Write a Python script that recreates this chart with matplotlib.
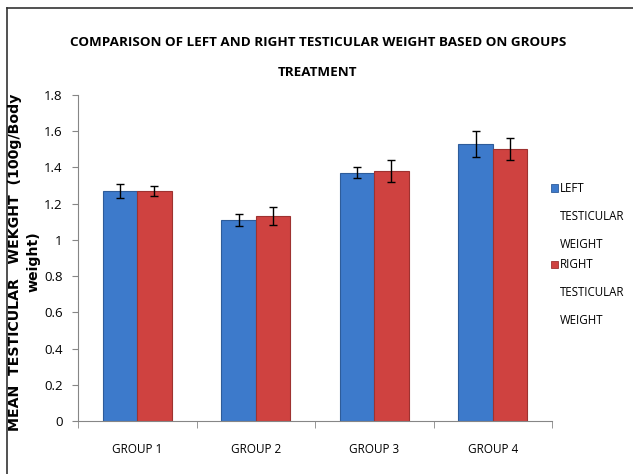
import numpy as np
import matplotlib
matplotlib.use("Agg")
import matplotlib.pyplot as plt
from matplotlib import font_manager
from matplotlib.patches import Rectangle
from matplotlib.lines import Line2D

groups = ["GROUP 1", "GROUP 2", "GROUP 3", "GROUP 4"]
left_weight = [1.27, 1.11, 1.37, 1.53]
left_err = [0.04, 0.035, 0.03, 0.07]
right_weight = [1.27, 1.13, 1.38, 1.50]
right_err = [0.03, 0.05, 0.06, 0.06]
y_ticks = [0, 0.2, 0.4, 0.6, 0.8, 1, 1.2, 1.4, 1.6, 1.8]
y_tick_labels = ["0", "0.2", "0.4", "0.6", "0.8", "1", "1.2", "1.4", "1.6", "1.8"]

# pick a narrow Calibri-like font if one is around
installed = {f.name for f in font_manager.fontManager.ttflist}
narrow = "DejaVu Sans"
for name in ["Liberation Sans Narrow", "Open Sans", "Liberation Sans"]:
    if name in installed:
        narrow = name
        break

BLUE = "#3D7ACB"
BLUE_EDGE = "#2E5C9A"
RED = "#CF4240"
RED_EDGE = "#9E3230"
AXIS = "#868686"

fig = plt.figure(figsize=(6.33, 4.74), dpi=100)
ax = fig.add_axes([0.1232, 0.1118, 0.749, 0.6878])

x = np.arange(len(groups))
w = 0.29
ax.bar(x - w / 2, left_weight, w, color=BLUE, edgecolor=BLUE_EDGE, linewidth=0.8,
       yerr=left_err, capsize=3, error_kw=dict(elinewidth=1, capthick=1, ecolor="black"))
ax.bar(x + w / 2, right_weight, w, color=RED, edgecolor=RED_EDGE, linewidth=0.8,
       yerr=right_err, capsize=3, error_kw=dict(elinewidth=1, capthick=1, ecolor="black"))

ax.set_xlim(-0.5, len(groups) - 0.5)
ax.set_ylim(0, 1.8)
ax.set_yticks(y_ticks)
ax.set_yticklabels(y_tick_labels, fontfamily=narrow, fontsize=9.5)
ax.set_xticks(x)
ax.set_xticklabels(groups, fontfamily=narrow, fontsize=8.5)
ax.set_xticks(np.arange(len(groups) + 1) - 0.5, minor=True)
ax.tick_params(axis="x", which="major", length=0, pad=16)
ax.tick_params(axis="x", which="minor", length=5, color=AXIS)
ax.tick_params(axis="y", length=4, color=AXIS, pad=7)

for side in ["top", "right"]:
    ax.spines[side].set_visible(False)
for side in ["left", "bottom"]:
    ax.spines[side].set_color(AXIS)

fig.text(0.502, 1 - 42 / 474, "COMPARISON OF LEFT AND RIGHT TESTICULAR WEIGHT BASED ON GROUPS",
         ha="center", va="center", fontfamily=narrow, fontweight="bold", fontsize=9.7)
fig.text(0.502, 1 - 72 / 474, "TREATMENT",
         ha="center", va="center", fontfamily=narrow, fontweight="bold", fontsize=9.7)

fig.text(24 / 633, 1 - 262 / 474, "MEAN  TESTICULAR   WEKGHT  (100g/Body\nweight)",
         rotation=90, ha="center", va="center", multialignment="center",
         fontfamily="DejaVu Sans", fontweight="bold", fontsize=10.2, linespacing=1.4)

# legend drawn by hand so the swatch sits on the first line
entries = [("LEFT\nTESTICULAR\nWEIGHT", BLUE, BLUE_EDGE, 188),
           ("RIGHT\nTESTICULAR\nWEIGHT", RED, RED_EDGE, 264)]
for label, fc, ec, ypix in entries:
    fig.patches.append(Rectangle((551 / 633, 1 - (ypix + 3.5) / 474), 7 / 633, 7 / 474,
                                 transform=fig.transFigure, facecolor=fc, edgecolor=ec,
                                 linewidth=0.6))
    for i, line in enumerate(label.split("\n")):
        fig.text(560 / 633, 1 - (ypix + i * 28.5) / 474, line, ha="left", va="center",
                 fontfamily=narrow, fontsize=8.3)

# outer frame (only top and left are visible in the crop)
fig.add_artist(Line2D([7 / 633, 1], [1 - 8 / 474, 1 - 8 / 474], transform=fig.transFigure,
                      color="#333333", linewidth=1.2))
fig.add_artist(Line2D([7 / 633, 7 / 633], [0, 1 - 8 / 474], transform=fig.transFigure,
                      color="#333333", linewidth=1.2))

fig.savefig("out.png", dpi=100)
